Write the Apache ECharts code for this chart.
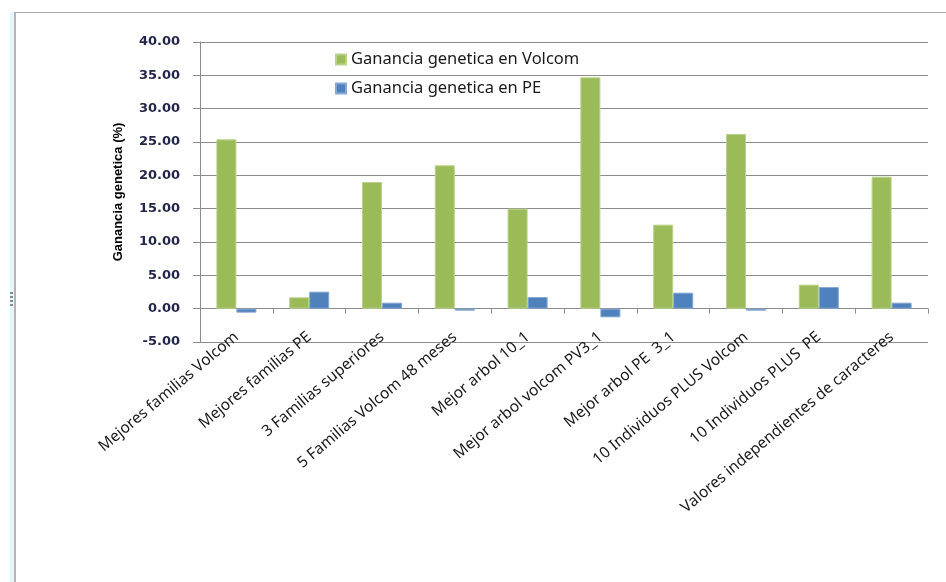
<!DOCTYPE html>
<html>
<head>
<meta charset="utf-8">
<script src="https://cdn.jsdelivr.net/npm/echarts@6/dist/echarts.min.js"></script>
<style>
  html, body { margin: 0; padding: 0; background: #ffffff; }
  #chart { width: 946px; height: 582px; }
</style>
</head>
<body>
<div id="chart"></div>
<script>
// Selection strategies compared on the x axis
const categories = [
  'Mejores familias Volcom',
  'Mejores familias PE',
  '3 Familias superiores',
  '5 Familias Volcom 48 meses',
  'Mejor arbol 10_1',
  'Mejor arbol volcom PV3_1',
  'Mejor arbol PE  3_1',
  '10 Individuos PLUS Volcom',
  '10 Individuos PLUS  PE',
  'Valores independientes de caracteres'
];

// Genetic gain (%) for each strategy
const gananciaVolcom = [25.4, 1.7, 19.0, 21.5, 15.0, 34.7, 12.6, 26.2, 3.6, 19.8];
const gananciaPE = [-0.6, 2.55, 0.9, -0.3, 1.75, -1.3, 2.4, -0.3, 3.25, 0.9];

const seriesNames = ['Ganancia genetica en Volcom', 'Ganancia genetica en PE'];
const axisTitle = 'Ganancia genetica (%)';

const chart = echarts.init(document.getElementById('chart'), null, { renderer: 'canvas' });

const gridColor = '#8c8c8c';

chart.setOption({
  backgroundColor: '#ffffff',
  animation: false,
  grid: { left: 200, right: 18, top: 42, bottom: 240 },
  legend: {
    orient: 'vertical',
    left: 330,
    top: 46,
    itemGap: 12,
    itemWidth: 10,
    itemHeight: 10,
    icon: 'rect',
    textStyle: { fontFamily: 'Noto Sans', fontSize: 16.5, color: '#1a1a1a' },
    data: seriesNames
  },
  xAxis: {
    type: 'category',
    data: categories,
    axisLine: { lineStyle: { color: gridColor, width: 1 } },
    axisTick: { show: true, length: 5, lineStyle: { color: gridColor } },
    axisLabel: {
      interval: 0,
      rotate: 40,
      margin: -7,
      fontFamily: 'Noto Sans',
      fontSize: 15.5,
      color: '#1a1a1a'
    },
    splitLine: { show: false }
  },
  yAxis: {
    type: 'value',
    min: -5,
    max: 40,
    interval: 5,
    name: axisTitle,
    nameLocation: 'middle',
    nameRotate: 90,
    nameGap: 75,
    nameTextStyle: { fontFamily: 'Liberation Sans', fontWeight: 'bold', fontSize: 13, color: '#000000' },
    axisLine: { show: true, lineStyle: { color: gridColor, width: 1 } },
    axisTick: { show: true, length: 7, lineStyle: { color: gridColor } },
    axisLabel: {
      margin: 20,
      fontFamily: 'DejaVu Sans',
      fontWeight: 'bold',
      fontSize: 13,
      color: '#24264a',
      formatter: v => v.toFixed(2)
    },
    splitLine: { show: true, lineStyle: { color: gridColor, width: 1 } }
  },
  series: [
    {
      name: seriesNames[0],
      type: 'bar',
      data: gananciaVolcom,
      barGap: '0%',
      barCategoryGap: '45%',
      itemStyle: { color: '#9bbb59', borderColor: '#b9d28c', borderWidth: 1 }
    },
    {
      name: seriesNames[1],
      type: 'bar',
      data: gananciaPE,
      itemStyle: { color: '#4f81bd', borderColor: '#86a8d3', borderWidth: 1 }
    }
  ],
  graphic: [
    // chart-area frame: tinted left edge, border lines and resize grip
    { type: 'rect', shape: { x: 10, y: 12, width: 4, height: 570 }, style: { fill: '#e2f8fa' }, silent: true },
    { type: 'line', shape: { x1: 15, y1: 12, x2: 15, y2: 582 }, style: { stroke: '#b4b4b4', lineWidth: 2 }, silent: true },
    { type: 'line', shape: { x1: 16, y1: 12.5, x2: 946, y2: 12.5 }, style: { stroke: '#a9a9a9', lineWidth: 1 }, silent: true },
    { type: 'rect', shape: { x: 10, y: 292, width: 3, height: 2 }, style: { fill: '#8a8a8a' }, silent: true },
    { type: 'rect', shape: { x: 10, y: 296, width: 3, height: 2 }, style: { fill: '#8a8a8a' }, silent: true },
    { type: 'rect', shape: { x: 10, y: 300, width: 3, height: 2 }, style: { fill: '#8a8a8a' }, silent: true },
    { type: 'rect', shape: { x: 10, y: 304, width: 3, height: 2 }, style: { fill: '#8a8a8a' }, silent: true }
  ]
});
</script>
</body>
</html>
